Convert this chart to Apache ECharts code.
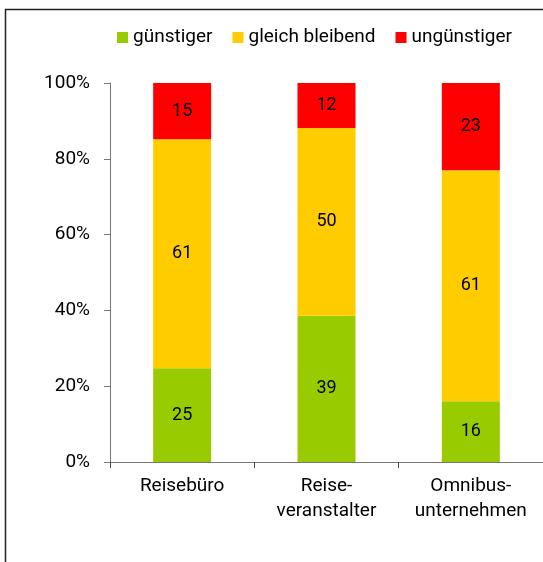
<!DOCTYPE html>
<html>
<head>
<meta charset="utf-8">
<script src="https://cdn.jsdelivr.net/npm/echarts@6/dist/echarts.min.js"></script>
<style>
html, body { margin: 0; padding: 0; background: #fff; }
#chart { width: 543px; height: 562px; }
</style>
</head>
<body>
<div id="chart"></div>
<script>
var categories = ['Reisebüro', 'Reise-\nveranstalter', 'Omnibus-\nunternehmen'];
var guenstiger = [25, 39, 16];
var gleichBleibend = [61, 50, 61];
var unguenstiger = [15, 12, 23];
var yTicks = ['0%', '20%', '40%', '60%', '80%', '100%'];

var chart = echarts.init(document.getElementById('chart'));

// Anteile je Kategorie auf 100% normieren, Beschriftung bleibt der Rohwert
function share(arr) {
    var out = [];
    for (var i = 0; i < arr.length; i++) {
        var sum = guenstiger[i] + gleichBleibend[i] + unguenstiger[i];
        out.push({ value: arr[i] / sum * 100, raw: arr[i] });
    }
    return out;
}

function serie(name, arr, color) {
    return {
        name: name,
        type: 'bar',
        stack: 'gesamt',
        barWidth: 58,
        data: share(arr),
        itemStyle: { color: color },
        label: {
            show: true,
            position: 'inside',
            color: '#000',
            fontSize: 18,
            fontFamily: 'Roboto',
            formatter: function (p) { return p.data.raw; }
        }
    };
}

var font = 'Roboto';
var option = {
    animation: false,
    textStyle: { fontFamily: font },
    graphic: [{
        type: 'rect',
        shape: { x: 5.5, y: 9.5, width: 560, height: 580 },
        style: { fill: null, stroke: '#222', lineWidth: 1.5 },
        silent: true
    }],
    legend: {
        left: 112,
        top: 23,
        itemWidth: 11,
        itemHeight: 11,
        itemGap: 20,
        icon: 'rect',
        textStyle: { fontSize: 19, color: '#000', fontFamily: font },
        data: ['günstiger', 'gleich bleibend', 'ungünstiger']
    },
    grid: { left: 110, right: 0, top: 83, bottom: 100 },
    xAxis: {
        type: 'category',
        data: categories,
        axisLine: { lineStyle: { color: '#777' } },
        axisTick: { show: true, interval: 0, length: 6, lineStyle: { color: '#444' } },
        axisLabel: { interval: 0, color: '#000', fontSize: 19, lineHeight: 25, margin: 12, fontFamily: font }
    },
    yAxis: {
        type: 'value',
        min: 0,
        max: 100,
        interval: 20,
        axisLine: { show: true, lineStyle: { color: '#777' } },
        axisTick: { show: true, length: 6, lineStyle: { color: '#777' } },
        splitLine: { show: false },
        axisLabel: {
            color: '#000',
            fontSize: 19,
            margin: 20,
            fontFamily: font,
            formatter: function (v) { return yTicks[Math.round(v / 20)]; }
        }
    },
    series: [
        serie('günstiger', guenstiger, '#99CC00'),
        serie('gleich bleibend', gleichBleibend, '#FFCC00'),
        serie('ungünstiger', unguenstiger, '#FF0000')
    ]
};
chart.setOption(option);
</script>
</body>
</html>
